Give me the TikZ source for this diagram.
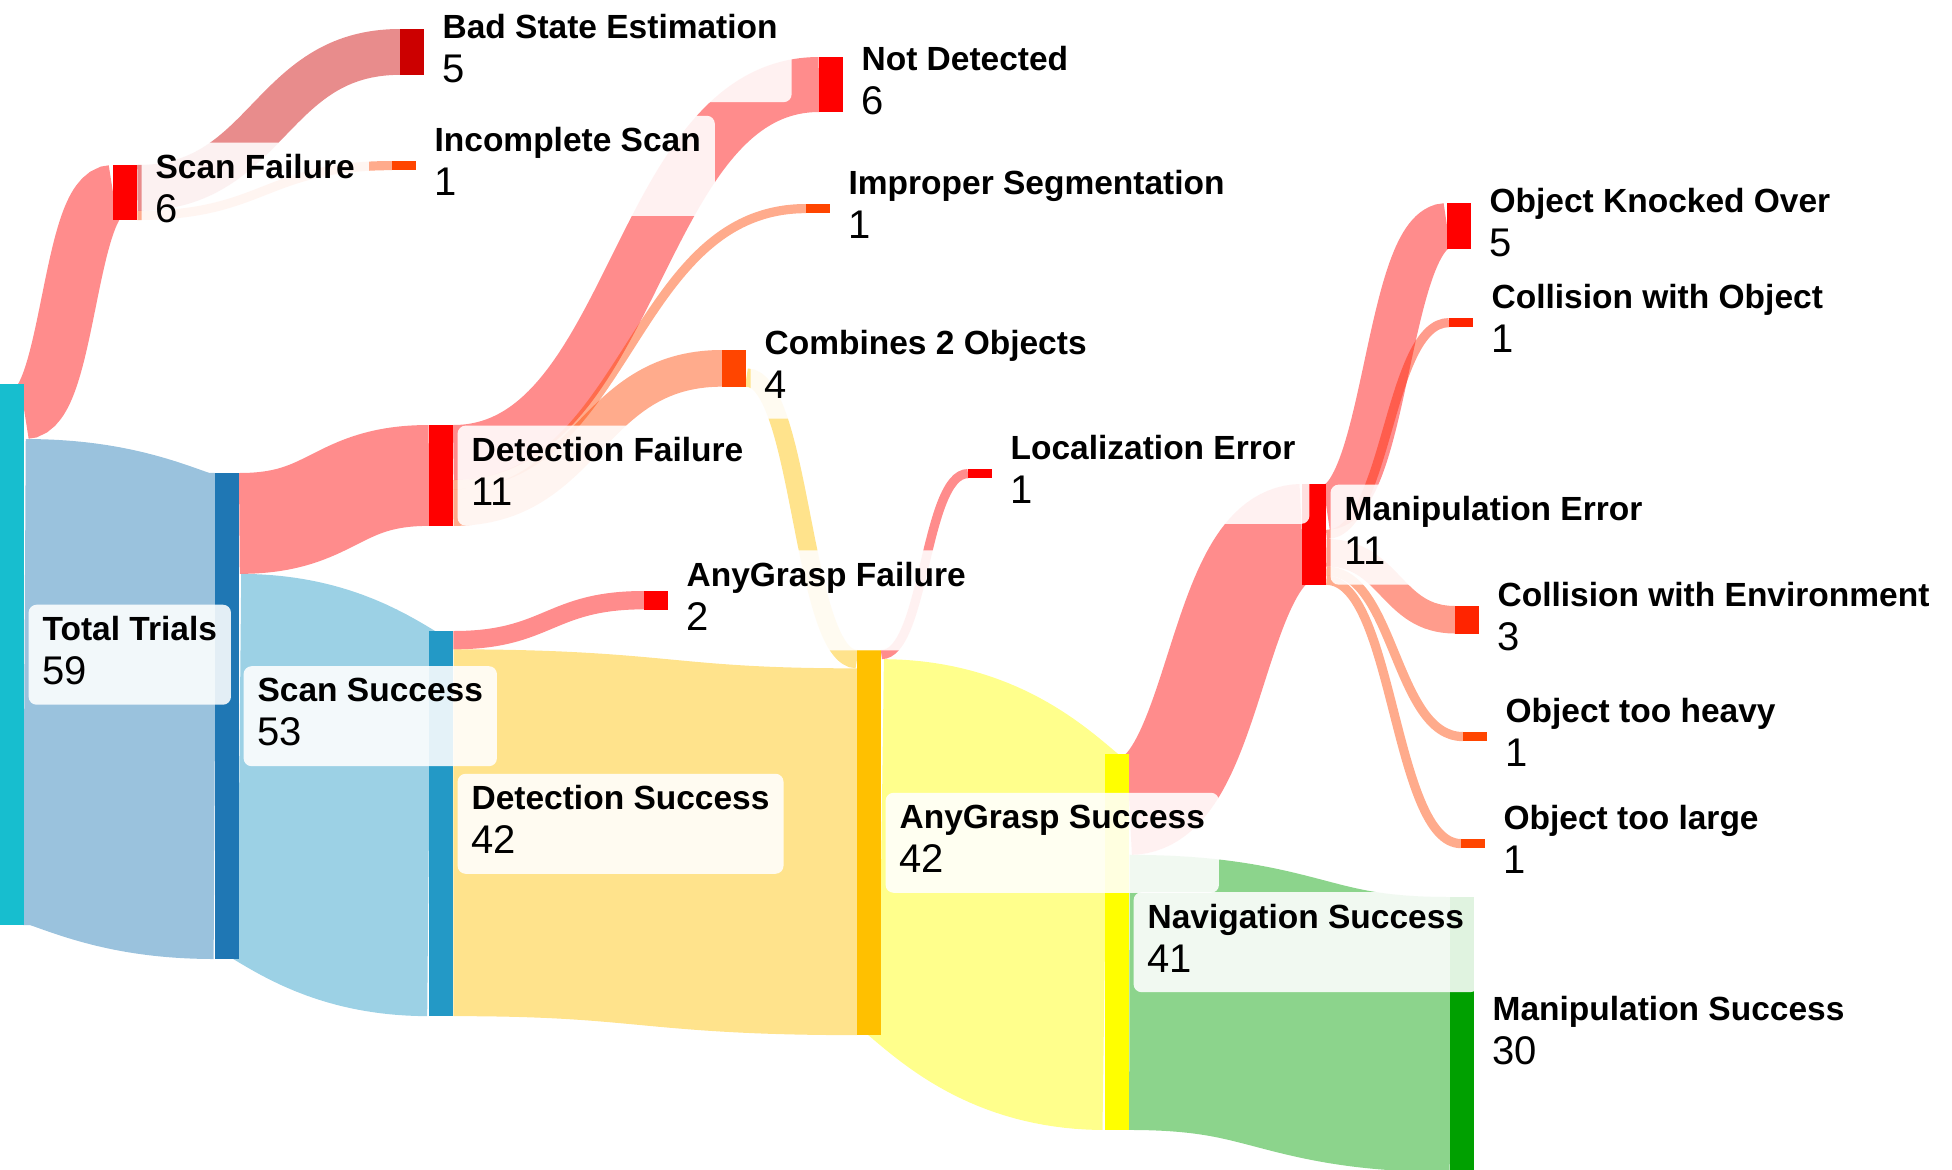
\documentclass[tikz,border=0pt]{standalone}
\usepackage{fontspec}
\setmainfont{Liberation Sans}
\usetikzlibrary{positioning, calc, backgrounds}
\definecolor{trialteal}{HTML}{17BECF}
\definecolor{scanblue}{HTML}{1F77B4}
\definecolor{detblue}{HTML}{2399C6}
\definecolor{failred}{HTML}{FF0000}
\definecolor{darkfail}{HTML}{CC0000}
\definecolor{minorfail}{HTML}{FF4500}
\definecolor{collred}{HTML}{FF2400}
\definecolor{graspgold}{HTML}{FFC000}
\definecolor{navyellow}{HTML}{FFFF00}
\definecolor{manipgreen}{HTML}{00A000}

% one trial = 9.17pt of bar height
\newcommand{\fu}{9.17pt}
\newcommand{\labelfont}{\fontsize{33.5}{44}\selectfont}
\newcommand{\countfont}{\fontsize{40}{44}\selectfont}

% band: colour, source, offset, target, offset, value
\newcommand{\flow}[6]{%
  \draw[#1, draw opacity=0.45, line width=#6*\fu]
    let \p1=(#2.north east), \p2=(#4.north west), \p3=($(\p1)!0.5!(\p2)$) in
    (\x1,\y1-#3*\fu-#6*\fu/2) .. controls (\x3,\y1-#3*\fu-#6*\fu/2)
    and (\x3,\y2-#5*\fu-#6*\fu/2) .. (\x2,\y2-#5*\fu-#6*\fu/2);}

\newcommand{\sankeynodes}{%
  total/0/384/59/trialteal/Total Trials,
  scanfail/113/165/6/failred/Scan Failure,
  scanok/215/473/53/scanblue/Scan Success,
  badstate/400/29/5/darkfail/Bad State Estimation,
  incomplete/392/161/1/minorfail/Incomplete Scan,
  detfail/429/425/11/failred/Detection Failure,
  detok/429/631/42/detblue/Detection Success,
  notdet/819/57/6/failred/Not Detected,
  improper/806/204/1/minorfail/Improper Segmentation,
  combines/722/350/4/minorfail/Combines 2 Objects,
  graspfail/644/591/2/failred/AnyGrasp Failure,
  graspok/857/650/42/graspgold/AnyGrasp Success,
  localize/968/469/1/failred/Localization Error,
  navok/1105/754/41/navyellow/Navigation Success,
  manipfail/1302/484/11/failred/Manipulation Error,
  manipok/1450/897/30/manipgreen/Manipulation Success,
  knocked/1447/203/5/failred/Object Knocked Over,
  collobj/1449/318/1/collred/Collision with Object,
  collenv/1455/606/3/collred/Collision with Environment,
  heavy/1463/732/1/minorfail/Object too heavy,
  large/1461/839/1/minorfail/Object too large}

\begin{document}
\begin{tikzpicture}[x=1pt, y=-1pt,
  barnode/.style={fill=#1, inner sep=0pt, minimum width=24pt, anchor=north west},
  lbl/.style={fill=white, fill opacity=0.88, text opacity=1, rounded corners=8pt,
    minimum height=100pt, inner xsep=14pt, inner ysep=0pt, align=left, font=\labelfont}]
\useasboundingbox (0,0) rectangle (1952,1170);

% Bars
\foreach \name/\px/\py/\v/\c/\lab in \sankeynodes {
  \node[barnode=\c, minimum height=\v*\fu] (\name) at (\px,\py) {};
}

% Flows, under the bars
\begin{scope}[on background layer]
\foreach \c/\s/\so/\t/\to/\v in {
  failred/total/0/scanfail/0/6,
  scanblue/total/6/scanok/0/53,
  darkfail/scanfail/0/badstate/0/5,
  minorfail/scanfail/5/incomplete/0/1,
  failred/scanok/0/detfail/0/11,
  detblue/scanok/11/detok/0/42,
  failred/detfail/0/notdet/0/6,
  minorfail/detfail/6/improper/0/1,
  minorfail/detfail/7/combines/0/4,
  failred/detok/0/graspfail/0/2,
  graspgold/detok/2/graspok/2/40,
  graspgold/combines/2/graspok/0/2,
  failred/graspok/0/localize/0/1,
  navyellow/graspok/1/navok/0/41,
  failred/navok/0/manipfail/0/11,
  manipgreen/navok/11/manipok/0/30,
  failred/manipfail/0/knocked/0/5,
  collred/manipfail/5/collobj/0/1,
  collred/manipfail/6/collenv/0/3,
  minorfail/manipfail/9/heavy/0/1,
  minorfail/manipfail/10/large/0/1} {
  \flow{\c}{\s}{\so}{\t}{\to}{\v}
}
\end{scope}

% Labels
\foreach \name/\px/\py/\v/\c/\lab in \sankeynodes {
  \node[lbl, right=4pt of \name] (\name-l)
    {\textbf{\lab}\\\countfont\v\rule[-8pt]{0pt}{8pt}};
}

\end{tikzpicture}
\end{document}
